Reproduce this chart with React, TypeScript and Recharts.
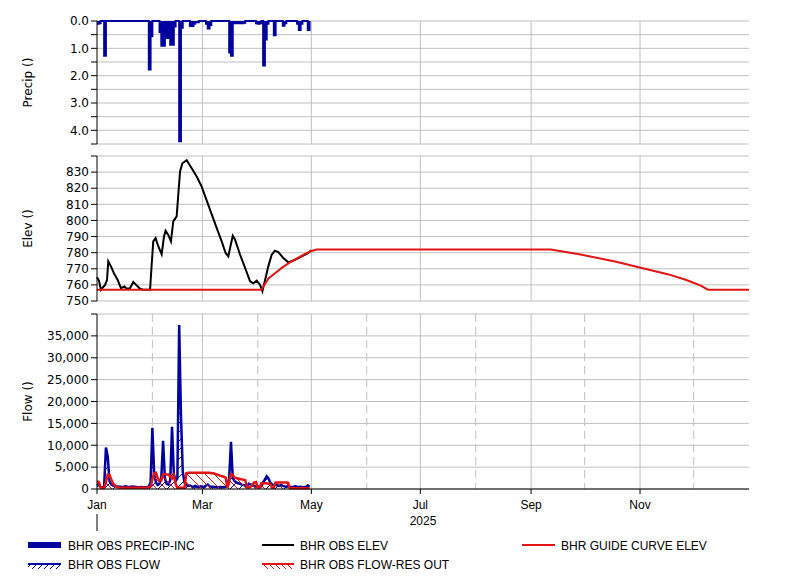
import React from "react";
import {
  ComposedChart,
  Area,
  Line,
  XAxis,
  YAxis,
  CartesianGrid,
  ReferenceArea,
} from "recharts";

// days are counted from 1 Jan 2025
const monthStarts = [0, 31, 59, 90, 120, 151, 181, 212, 243, 273, 304, 334];
const monthNames = ["Jan", "Feb", "Mar", "Apr", "May", "Jun", "Jul", "Aug", "Sep", "Oct", "Nov", "Dec"];
const labelMonths = [0, 59, 120, 181, 243, 304];
const oddMonths = [59, 120, 181, 243, 304];
const evenMonths = [31, 90, 151, 212, 273, 334];

// BHR OBS PRECIP-INC, daily from Jan 1
const precip = [
  0.1, 0.08, 0, 0, 1.27, 0, 0, 0, 0, 0,
  0, 0, 0, 0, 0, 0, 0, 0, 0, 0,
  0, 0, 0, 0, 0, 0, 0, 0, 0, 1.77,
  0.56, 0, 0, 0, 0, 0.4, 0.91, 0.91, 0.45, 0.62,
  0.5, 0.87, 0.87, 0.2, 0, 0, 4.4, 0.25, 0, 0,
  0, 0, 0.18, 0.18, 0.1, 0.05, 0.05, 0, 0, 0,
  0, 0.1, 0.27, 0.15, 0, 0, 0, 0, 0, 0,
  0, 0, 0, 0, 1.15, 1.27, 0.05, 0.08, 0.06, 0.08,
  0.05, 0.08, 0.06, 0, 0, 0, 0, 0, 0, 0.08,
  0.1, 0.08, 0, 1.63, 0.68, 0.1, 0, 0, 0, 0.52,
  0, 0, 0, 0, 0.17, 0.08, 0, 0, 0, 0,
  0, 0, 0.1, 0.33, 0.1, 0, 0, 0, 0.33, 0,
];

// BHR OBS ELEV
const elevDays = [
  0, 1.1, 2.2, 4.5, 5.6, 6.3, 7.8, 9.7, 11.6, 13.4, 15.3, 16.6, 18.5, 20.3, 22.2, 24.1,
  25.9, 29.7, 30.6, 31.5, 32.8, 34.3, 36.2, 37.5, 38.4, 39.9, 41.4, 42.7, 44.6, 45.5,
  46.5, 47.8, 50.2, 53, 55.8, 58.6, 62.3, 66, 69.8, 72, 73.5, 74.5, 76, 77.3, 80.1,
  82.9, 85.7, 87.5, 89.4, 91.3, 92.6, 94.1, 95.9, 97.8, 99.6, 101.5, 104.3, 107.1,
  110.9, 114.6, 118.3, 120,
];
const elevObs = [
  764.7, 762.6, 757, 760, 763, 774.6, 771.5, 766.7, 763, 758, 759, 757.6, 758, 761.8, 759.7, 757.6,
  757, 757, 772.5, 787, 789, 784, 779, 790, 793.6, 791, 787, 799.4, 802.5, 816,
  830.4, 835.5, 837.4, 832.4, 827.3, 821, 809.7, 798.3, 787, 779.8, 777.7, 782.9, 790.5, 788, 778.7,
  770.5, 762.2, 761, 762.6, 760, 756, 763, 771.5, 778.7, 781.2, 780.4, 776.7, 774,
  775.6, 777.7, 779.8, 781.5,
];

// BHR GUIDE CURVE ELEV
const guideDays = [0, 92, 96, 100, 104, 108, 112, 116, 120, 123, 254, 270, 290, 305, 320, 330, 338, 342, 365];
const guideElev = [757, 757, 764, 767.5, 771, 774, 776.5, 779, 781, 782, 782, 779, 774.5, 770.5, 766.5, 763, 759.5, 757, 757];

// BHR OBS FLOW, daily from Jan 1
const flowObs = [
  1200, 900, 400, 300, 600, 9500, 7500, 1800, 1000, 800,
  700, 600, 500, 500, 450, 500, 600, 500, 450, 500,
  550, 500, 450, 400, 400, 450, 400, 400, 400, 600,
  1500, 14000, 3500, 1500, 900, 1200, 2500, 11000, 2500, 1200,
  1000, 2000, 14200, 3500, 1800, 2500, 37500, 17000, 4000, 1500,
  900, 700, 800, 600, 500, 700, 500, 400, 600, 500,
  400, 800, 1000, 600, 500, 500, 450, 400, 400, 450,
  400, 400, 500, 800, 2500, 10800, 2500, 1800, 1500, 1300,
  1200, 1000, 900, 800, 700, 1200, 1000, 800, 700, 600,
  600, 500, 600, 1500, 2200, 2900, 2400, 1500, 1000, 900,
  1000, 800, 700, 900, 700, 600, 500, 600, 500, 450,
  500, 600, 500, 450, 500, 400, 450, 400, 800, 500,
];

// BHR OBS FLOW-RES OUT, daily from Jan 1
const flowResOut = [
  1800, 1600, 400, 200, 300, 1500, 3300, 3200, 2200, 1200,
  800, 500, 350, 300, 300, 350, 300, 300, 350, 300,
  300, 350, 300, 300, 300, 300, 350, 300, 300, 400,
  600, 2200, 3600, 3700, 2500, 2000, 2000, 3400, 3400, 3300,
  3300, 2800, 2400, 3200, 1200, 300, 300, 300, 300, 300,
  3600, 3700, 3700, 3700, 3700, 3700, 3700, 3700, 3700, 3700,
  3700, 3700, 3700, 3700, 3600, 3600, 3500, 3300, 3200, 3000,
  2900, 2800, 2600, 300, 1500, 3400, 3200, 2600, 2500, 2400,
  2300, 2200, 2100, 2000, 400, 300, 500, 1000, 1500, 1600,
  300, 300, 1300, 1300, 1300, 1300, 1200, 1200, 300, 300,
  1500, 1500, 1500, 1500, 1500, 1500, 1500, 1400, 200, 200,
  200, 200, 200, 200, 200, 200, 200, 200, 200, 200,
];

const precipTicks = [0, 0.5, 1, 1.5, 2, 2.5, 3, 3.5, 4, 4.5];
const elevTicks = [750, 760, 770, 780, 790, 800, 810, 820, 830, 840];
const flowTicks = [0, 5000, 10000, 15000, 20000, 25000, 30000, 35000, 40000];

const precipData = precip.map((p, day) => ({ day, p }));
const flowData = flowObs.map((q, day) => ({ day, q, out: flowResOut[day] }));

// obs and guide curve are on different steps, merge them by day
const elevData = (() => {
  const rows = new Map<number, { day: number; obs?: number; guide?: number }>();
  elevDays.forEach((d, i) => rows.set(d, { ...(rows.get(d) || { day: d }), obs: elevObs[i] }));
  guideDays.forEach((d, i) => rows.set(d, { ...(rows.get(d) || { day: d }), guide: guideElev[i] }));
  return [...rows.values()].sort((a, b) => a.day - b.day);
})();

const NAVY = "#0000a0";
const RED = "#e41414";
const GRID = "#c0c0c0";
const numFont = { fontFamily: "DejaVu Sans", fontSize: 12, fill: "#000" };
const dateFont = { fontFamily: "Liberation Sans", fontSize: 12, fill: "#000" };
const margin = (top: number, bottom: number) => ({ top, right: 52, bottom, left: 0 });

const axisTitle = (text: string) => (props: any) => {
  const vb = props.viewBox;
  const cx = vb.x + 28;
  const cy = vb.y + vb.height / 2;
  return (
    <text
      x={cx}
      y={cy}
      transform={`rotate(-90 ${cx} ${cy})`}
      textAnchor="middle"
      dominantBaseline="central"
      fontFamily="DejaVu Sans"
      fontSize={12}
      fill="#000"
    >
      {text}
    </text>
  );
};

const yearLabel = (props: any) => {
  const vb = props.viewBox;
  return (
    <g>
      <line x1={vb.x} x2={vb.x} y1={vb.y + 25} y2={vb.y + 42} stroke="#000" />
      <text x={vb.x + vb.width / 2} y={vb.y + 36} textAnchor="middle" {...dateFont}>
        2025
      </text>
    </g>
  );
};

const Border = () => (
  <ReferenceArea fill="none" stroke="#000" strokeWidth={1.5} ifOverflow="visible" />
);

function PrecipPanel() {
  return (
    <ComposedChart width={801} height={149} data={precipData} margin={margin(21, 5)}>
      <CartesianGrid stroke={GRID} vertical={false} />
      <CartesianGrid stroke={GRID} horizontal={false} verticalValues={oddMonths} />
      <XAxis type="number" dataKey="day" domain={[0, 365]} hide />
      <YAxis
        width={97}
        reversed
        domain={[0, 4.5]}
        ticks={precipTicks}
        interval={0}
        tick={numFont}
        tickSize={6}
        tickMargin={2}
        stroke="#000"
        tickFormatter={(v: number) => (Number.isInteger(v) ? v.toFixed(1) : "")}
        label={{ content: axisTitle("Precip ()") }}
      />
      <Area
        type="stepAfter"
        dataKey="p"
        baseValue={0}
        stroke={NAVY}
        strokeWidth={2}
        fill={NAVY}
        fillOpacity={1}
        isAnimationActive={false}
      />
      <Border />
    </ComposedChart>
  );
}

function ElevPanel() {
  return (
    <ComposedChart width={801} height={163} data={elevData} margin={margin(6, 12)}>
      <CartesianGrid stroke={GRID} vertical={false} />
      <CartesianGrid stroke={GRID} horizontal={false} verticalValues={oddMonths} />
      <XAxis type="number" dataKey="day" domain={[0, 365]} hide />
      <YAxis
        width={97}
        domain={[750, 840]}
        ticks={elevTicks}
        interval={0}
        tick={numFont}
        tickSize={6}
        tickMargin={2}
        stroke="#000"
        tickFormatter={(v: number) => (v === 840 ? "" : String(v))}
        label={{ content: axisTitle("Elev ()") }}
      />
      <Line type="linear" dataKey="obs" stroke="#000" strokeWidth={2} dot={false} connectNulls isAnimationActive={false} />
      <Line type="linear" dataKey="guide" stroke={RED} strokeWidth={2} dot={false} connectNulls isAnimationActive={false} />
      <Border />
    </ComposedChart>
  );
}

function FlowPanel() {
  return (
    <ComposedChart width={801} height={230} data={flowData} margin={margin(9, 0)}>
      <defs>
        <pattern id="hatchBlue" width="9" height="9" patternUnits="userSpaceOnUse">
          <path d="M0,9 L9,0 M-2,2 L2,-2 M7,11 L11,7" stroke={NAVY} strokeWidth={1} />
        </pattern>
        <pattern id="hatchRed" width="9" height="9" patternUnits="userSpaceOnUse">
          <path d="M0,0 L9,9 M-2,7 L2,11 M7,-2 L11,2" stroke={RED} strokeWidth={1} />
        </pattern>
      </defs>
      <CartesianGrid stroke={GRID} vertical={false} />
      <CartesianGrid stroke={GRID} horizontal={false} verticalValues={oddMonths} />
      <CartesianGrid stroke={GRID} horizontal={false} verticalValues={evenMonths} strokeDasharray="8 5" />
      <XAxis
        type="number"
        dataKey="day"
        domain={[0, 365]}
        ticks={labelMonths}
        interval={0}
        height={46}
        tick={dateFont}
        tickSize={5}
        tickMargin={6}
        stroke="#000"
        tickFormatter={(d: number) => monthNames[monthStarts.indexOf(d)]}
        label={{ content: yearLabel }}
      />
      <YAxis
        width={97}
        domain={[0, 40000]}
        ticks={flowTicks}
        interval={0}
        tick={numFont}
        tickSize={6}
        tickMargin={2}
        stroke="#000"
        tickFormatter={(v: number) => (v === 40000 ? "" : v.toLocaleString("en-US"))}
        label={{ content: axisTitle("Flow ()") }}
      />
      <Area
        type="linear"
        dataKey="q"
        baseValue={0}
        stroke={NAVY}
        strokeWidth={2.5}
        fill="url(#hatchBlue)"
        fillOpacity={1}
        isAnimationActive={false}
      />
      <Area
        type="linear"
        dataKey="out"
        baseValue={0}
        stroke={RED}
        strokeWidth={2.5}
        fill="url(#hatchRed)"
        fillOpacity={1}
        isAnimationActive={false}
      />
      <Border />
    </ComposedChart>
  );
}

function LegendRow() {
  const text = (x: number, y: number, s: string) => (
    <text x={x} y={y} {...dateFont}>
      {s}
    </text>
  );
  return (
    <svg width={801} height={45}>
      <defs>
        <pattern id="lgBlue" width="6" height="6" patternUnits="userSpaceOnUse">
          <path d="M0,6 L6,0" stroke={NAVY} strokeWidth={1} />
        </pattern>
        <pattern id="lgRed" width="6" height="6" patternUnits="userSpaceOnUse">
          <path d="M0,0 L6,6" stroke={RED} strokeWidth={1} />
        </pattern>
      </defs>
      <rect x={28} y={7} width={33} height={6} fill={NAVY} />
      {text(68, 15, "BHR OBS PRECIP-INC")}
      <line x1={262} x2={294} y1={10} y2={10} stroke="#000" strokeWidth={2} />
      {text(300, 15, "BHR OBS ELEV")}
      <line x1={522} x2={555} y1={10} y2={10} stroke={RED} strokeWidth={2} />
      {text(561, 15, "BHR GUIDE CURVE ELEV")}
      <line x1={28} x2={61} y1={29} y2={29} stroke={NAVY} strokeWidth={2} />
      <rect x={28} y={30} width={33} height={4} fill="url(#lgBlue)" />
      {text(68, 34, "BHR OBS FLOW")}
      <line x1={262} x2={294} y1={29} y2={29} stroke={RED} strokeWidth={2} />
      <rect x={262} y={30} width={32} height={4} fill="url(#lgRed)" />
      {text(300, 34, "BHR OBS FLOW-RES OUT")}
    </svg>
  );
}

export default function App() {
  return (
    <div style={{ position: "absolute", left: 0, top: 0, width: 801, height: 580, background: "#fff" }}>
      <div style={{ position: "absolute", left: 0, top: 305 }}>
        <FlowPanel />
      </div>
      <div style={{ position: "absolute", left: 0, top: 150 }}>
        <ElevPanel />
      </div>
      <div style={{ position: "absolute", left: 0, top: 0 }}>
        <PrecipPanel />
      </div>
      <div style={{ position: "absolute", left: 0, top: 535 }}>
        <LegendRow />
      </div>
    </div>
  );
}
